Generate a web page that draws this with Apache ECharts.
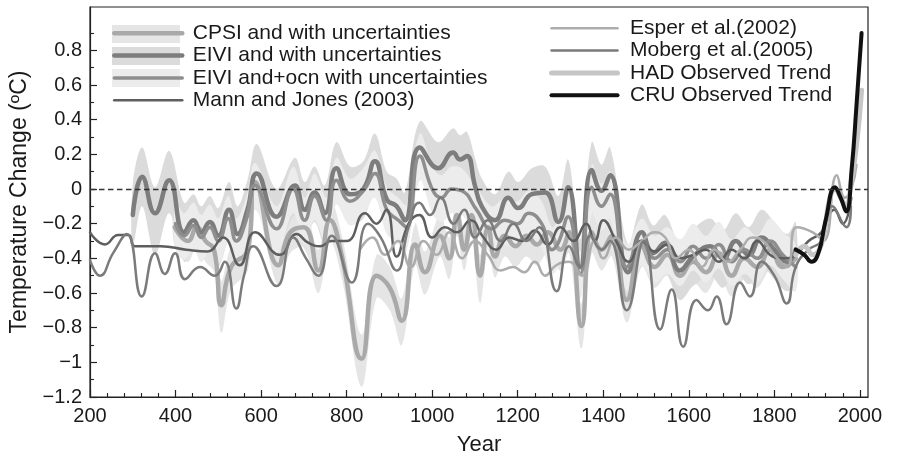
<!DOCTYPE html>
<html><head><meta charset="utf-8">
<script src="https://cdn.jsdelivr.net/npm/echarts@6/dist/echarts.min.js"></script>
<style>html,body{margin:0;padding:0;background:#fff}#c{width:897px;height:460px}</style>
</head><body><div id="c"></div><script>
// ---- axis ticks / labels ----
const xMajorTicks = [200,400,600,800,1000,1200,1400,1600,1800,2000];
const xMinorTicks = [240,280,320,360,440,480,520,560,640,680,720,760,840,880,920,960,1040,1080,1120,1160,1240,1280,1320,1360,1440,1480,1520,1560,1640,1680,1720,1760,1840,1880,1920,1960];
const yMajorTicks = [-1.2,-1,-0.8,-0.6,-0.4,-0.2,0,0.2,0.4,0.6,0.8];
const yTickLabels = ['\u22121.2','\u22121','\u22120.8','\u22120.6','\u22120.4','\u22120.2','0','0.2','0.4','0.6','0.8'];
const yMinorTicks = [-1.1,-0.9,-0.7,-0.5,-0.3,-0.1,0.1,0.3,0.5,0.7,0.9];

// ---- series names ----
const legendLeft = ['CPSI and with uncertainties','EIVI and with uncertainties','EIVI and+ocn with uncertainties','Mann and Jones (2003)'];
const legendRight = ['Esper et al.(2002)','Moberg et al.(2005)','HAD Observed Trend','CRU Observed Trend'];

// ---- series values [year, temperature change] ----
const cpsi = [[398,-0.22],[429,-0.3],[450,-0.22],[470,-0.3],[490,-0.35],[507,-0.67],[530,-0.45],[569,-0.35],[586,0.04],[640,-0.44],[668,-0.25],[700,-0.22],[734,-0.47],[761,-0.18],[790,-0.4],[835,-0.98],[870,-0.5],[901,-0.57],[929,-0.76],[960,-0.32],[983,-0.48],[1018,-0.27],[1040,-0.4],[1058,-0.15],[1075,-0.35],[1092,-0.15],[1112,-0.5],[1131,-0.22],[1147,-0.39],[1170,-0.27],[1195,-0.33],[1220,-0.27],[1245,-0.32],[1270,-0.25],[1300,-0.35],[1320,-0.25],[1349,-0.79],[1373,-0.25],[1396,-0.35],[1420,-0.27],[1455,-0.64],[1490,-0.33],[1520,-0.45],[1550,-0.38],[1580,-0.5],[1610,-0.42],[1640,-0.48],[1670,-0.37],[1700,-0.5],[1730,-0.4],[1760,-0.45],[1790,-0.35],[1820,-0.45],[1850,-0.4]];
const eivi = [[300,-0.15],[322,0.07],[352,-0.14],[385,0.05],[420,-0.25],[442,-0.18],[460,-0.25],[480,-0.19],[500,-0.27],[525,-0.12],[545,-0.26],[568,-0.12],[590,0.09],[636,-0.16],[679,0.02],[702,-0.12],[725,-0.02],[749,-0.14],[776,0.12],[808,-0.03],[839,0.0],[866,0.16],[894,-0.06],[917,-0.1],[936,-0.18],[971,0.24],[1014,0.12],[1049,0.21],[1065,0.17],[1081,0.19],[1100,0.02],[1116,-0.1],[1147,-0.18],[1178,-0.05],[1201,-0.11],[1233,-0.03],[1264,-0.02],[1295,-0.19],[1318,0.01],[1346,-0.45],[1373,0.11],[1396,-0.01],[1416,0.08],[1458,-0.48],[1490,-0.25],[1517,-0.37],[1544,-0.31],[1579,-0.47],[1610,-0.39],[1650,-0.33],[1680,-0.4],[1710,-0.3],[1740,-0.38],[1770,-0.28],[1800,-0.35],[1830,-0.42],[1850,-0.35]];
const eiviOcn = [[400,-0.2],[420,-0.27],[442,-0.21],[460,-0.28],[480,-0.22],[500,-0.3],[523,-0.17],[542,-0.3],[565,-0.18],[586,0.02],[636,-0.23],[675,0.0],[702,-0.18],[725,-0.04],[753,-0.18],[776,0.05],[808,-0.07],[839,-0.01],[866,0.09],[894,-0.12],[921,-0.18],[940,-0.22],[971,0.19],[1002,-0.01],[1022,-0.05],[1045,0.0],[1069,-0.01],[1104,-0.12],[1139,-0.23],[1170,-0.18],[1200,-0.2],[1225,-0.14],[1256,-0.2],[1280,-0.35],[1295,-0.31],[1318,-0.16],[1346,-0.49],[1373,0.01],[1396,-0.1],[1416,-0.03],[1455,-0.45],[1490,-0.3],[1520,-0.4],[1550,-0.35],[1580,-0.42],[1610,-0.33],[1640,-0.4],[1670,-0.32],[1700,-0.42],[1730,-0.35],[1760,-0.4],[1790,-0.3],[1820,-0.38],[1850,-0.45]];
const mannJones = [[200,-0.25],[235,-0.32],[266,-0.265],[290,-0.265],[305,-0.33],[365,-0.33],[425,-0.35],[475,-0.36],[511,-0.28],[550,-0.44],[586,-0.25],[644,-0.38],[683,-0.26],[710,-0.31],[738,-0.33],[765,-0.3],[800,-0.3],[843,-0.14],[870,-0.2],[893,-0.12],[917,-0.39],[945,-0.2],[970,-0.15],[1000,-0.28],[1030,-0.22],[1057,-0.25],[1090,-0.18],[1120,-0.28],[1150,-0.35],[1180,-0.28],[1210,-0.3],[1240,-0.24],[1270,-0.32],[1300,-0.22],[1330,-0.3],[1360,-0.2],[1380,-0.3],[1400,-0.18],[1430,-0.3],[1460,-0.42],[1490,-0.3],[1520,-0.36],[1550,-0.32],[1580,-0.4],[1610,-0.38],[1640,-0.35],[1670,-0.42],[1700,-0.35],[1730,-0.4],[1760,-0.3],[1790,-0.38],[1820,-0.4],[1850,-0.38],[1880,-0.3],[1910,-0.25],[1940,-0.12],[1960,-0.2],[1980,-0.05]];
const esper = [[831,-0.35],[860,-0.28],[890,-0.38],[920,-0.3],[950,-0.45],[980,-0.3],[1010,-0.38],[1040,-0.25],[1070,-0.4],[1100,-0.3],[1130,-0.38],[1160,-0.47],[1189,-0.45],[1215,-0.48],[1240,-0.42],[1264,-0.5],[1290,-0.44],[1320,-0.42],[1350,-0.5],[1380,-0.3],[1400,-0.4],[1430,-0.28],[1460,-0.35],[1490,-0.3],[1520,-0.25],[1545,-0.28],[1570,-0.4],[1600,-0.35],[1630,-0.45],[1660,-0.35],[1690,-0.42],[1720,-0.35],[1750,-0.28],[1774,-0.3],[1800,-0.38],[1830,-0.45],[1852,-0.22],[1890,-0.25],[1915,-0.3],[1946,0.08],[1965,-0.05],[1980,0.0],[1992,0.14]];
const moberg = [[200,-0.41],[223,-0.5],[254,-0.37],[286,-0.26],[321,-0.62],[352,-0.37],[375,-0.49],[399,-0.37],[422,-0.52],[457,-0.45],[492,-0.5],[515,-0.42],[542,-0.69],[560,-0.5],[582,-0.33],[636,-0.56],[675,-0.28],[705,-0.4],[734,-0.5],[765,-0.27],[812,-0.54],[850,-0.2],[880,-0.28],[917,-0.47],[945,-0.22],[970,-0.08],[995,-0.15],[1020,-0.05],[1050,-0.2],[1075,-0.12],[1100,-0.28],[1130,-0.18],[1160,-0.3],[1190,-0.2],[1220,-0.3],[1250,-0.22],[1291,-0.59],[1320,-0.33],[1346,-0.45],[1370,-0.27],[1396,-0.35],[1416,-0.3],[1455,-0.7],[1495,-0.3],[1533,-0.81],[1560,-0.58],[1587,-0.91],[1618,-0.64],[1645,-0.7],[1665,-0.62],[1688,-0.78],[1720,-0.54],[1743,-0.62],[1770,-0.42],[1800,-0.5],[1829,-0.66],[1850,-0.45],[1880,-0.35],[1910,-0.3],[1935,-0.1],[1969,-0.22],[1979,-0.1]];
const had = [[1850,-0.38],[1870,-0.33],[1890,-0.38],[1910,-0.32],[1930,-0.05],[1942,0.0],[1955,-0.05],[1968,-0.1],[1980,0.05],[1992,0.25],[2004,0.57]];
const cru = [[1850,-0.35],[1870,-0.38],[1887,-0.42],[1903,-0.37],[1920,-0.18],[1942,0.01],[1955,-0.05],[1968,-0.13],[1981,0.12],[1992,0.48],[2004,0.9]];

// ---- uncertainty bands [year, lower, upper] ----
const cpsiBand = [[398,-0.33,-0.11],[429,-0.42,-0.19],[450,-0.33,-0.11],[470,-0.42,-0.19],[490,-0.48,-0.23],[507,-0.83,-0.53],[530,-0.58,-0.33],[569,-0.47,-0.22],[586,-0.08,0.16],[640,-0.56,-0.32],[668,-0.37,-0.13],[700,-0.34,-0.1],[734,-0.6,-0.35],[761,-0.3,-0.06],[790,-0.53,-0.28],[835,-1.14,-0.84],[870,-0.63,-0.38],[901,-0.7,-0.45],[929,-0.9,-0.63],[960,-0.44,-0.2],[983,-0.61,-0.36],[1018,-0.39,-0.15],[1040,-0.52,-0.28],[1058,-0.27,-0.03],[1075,-0.47,-0.23],[1092,-0.27,-0.03],[1112,-0.66,-0.38],[1131,-0.34,-0.1],[1147,-0.51,-0.27],[1170,-0.39,-0.15],[1195,-0.45,-0.21],[1220,-0.39,-0.15],[1245,-0.44,-0.2],[1270,-0.37,-0.13],[1300,-0.47,-0.23],[1320,-0.37,-0.13],[1349,-0.92,-0.66],[1373,-0.37,-0.13],[1396,-0.47,-0.23],[1420,-0.39,-0.15],[1455,-0.77,-0.51],[1490,-0.45,-0.21],[1520,-0.57,-0.33],[1550,-0.5,-0.26],[1580,-0.62,-0.38],[1610,-0.54,-0.3],[1640,-0.6,-0.36],[1670,-0.49,-0.25],[1700,-0.62,-0.38],[1730,-0.52,-0.28],[1760,-0.57,-0.33],[1790,-0.47,-0.23],[1820,-0.57,-0.33],[1850,-0.52,-0.28]];
const eiviBand = [[300,-0.33,0.03],[322,-0.1,0.24],[352,-0.38,0.01],[385,-0.14,0.22],[420,-0.42,-0.08],[442,-0.34,-0.03],[460,-0.42,-0.1],[480,-0.36,-0.04],[500,-0.45,-0.11],[525,-0.3,0.04],[545,-0.45,-0.1],[568,-0.3,0.05],[590,-0.08,0.26],[636,-0.35,0.0],[679,-0.15,0.18],[702,-0.3,0.04],[725,-0.19,0.13],[749,-0.32,0.02],[776,-0.05,0.27],[808,-0.2,0.13],[839,-0.17,0.16],[866,-0.02,0.32],[894,-0.24,0.1],[917,-0.28,0.06],[936,-0.36,-0.02],[971,0.05,0.39],[1014,-0.06,0.27],[1049,0.03,0.35],[1065,-0.01,0.31],[1081,0.01,0.33],[1100,-0.16,0.18],[1116,-0.27,0.06],[1147,-0.35,-0.03],[1178,-0.22,0.1],[1201,-0.28,0.04],[1233,-0.2,0.12],[1264,-0.19,0.13],[1295,-0.36,-0.04],[1318,-0.16,0.17],[1346,-0.63,-0.29],[1373,-0.07,0.27],[1396,-0.18,0.14],[1416,-0.1,0.24],[1458,-0.65,-0.32],[1490,-0.42,-0.09],[1517,-0.54,-0.21],[1544,-0.48,-0.15],[1579,-0.64,-0.31],[1610,-0.56,-0.23],[1650,-0.5,-0.17],[1680,-0.57,-0.24],[1710,-0.47,-0.14],[1740,-0.55,-0.22],[1770,-0.45,-0.12],[1800,-0.52,-0.19],[1830,-0.59,-0.26],[1850,-0.52,-0.19]];
const eiviOcnBand = [[400,-0.34,-0.07],[420,-0.41,-0.14],[442,-0.35,-0.08],[460,-0.42,-0.15],[480,-0.36,-0.09],[500,-0.44,-0.17],[523,-0.31,-0.04],[542,-0.44,-0.17],[565,-0.32,-0.05],[586,-0.12,0.15],[636,-0.37,-0.1],[675,-0.14,0.13],[702,-0.32,-0.05],[725,-0.18,0.09],[753,-0.32,-0.05],[776,-0.09,0.18],[808,-0.21,0.06],[839,-0.15,0.12],[866,-0.05,0.22],[894,-0.26,0.01],[921,-0.32,-0.05],[940,-0.36,-0.09],[971,0.05,0.32],[1002,-0.15,0.12],[1022,-0.19,0.08],[1045,-0.14,0.13],[1069,-0.15,0.12],[1104,-0.26,0.01],[1139,-0.37,-0.1],[1170,-0.32,-0.05],[1200,-0.34,-0.07],[1225,-0.28,-0.01],[1256,-0.34,-0.07],[1280,-0.49,-0.22],[1295,-0.45,-0.18],[1318,-0.3,-0.03],[1346,-0.63,-0.36],[1373,-0.13,0.14],[1396,-0.24,0.03],[1416,-0.17,0.1],[1455,-0.59,-0.32],[1490,-0.44,-0.17],[1520,-0.54,-0.27],[1550,-0.49,-0.22],[1580,-0.56,-0.29],[1610,-0.47,-0.2],[1640,-0.54,-0.27],[1670,-0.46,-0.19],[1700,-0.56,-0.29],[1730,-0.49,-0.22],[1760,-0.54,-0.27],[1790,-0.44,-0.17],[1820,-0.52,-0.25],[1850,-0.59,-0.32]];

const FONT = 'Liberation Sans, Arial, Helvetica, sans-serif';

function bandSeries(band, name, color) {
  return {
    name, type:'custom', data: band, silent:true, z:1,
    encode:{x:0, y:[1,2]},
    renderItem: function (params, api) {
      if (params.dataIndex !== 0) return null;
      const upper = band.map(d => api.coord([d[0], d[2]]));
      const lower = band.map(d => api.coord([d[0], d[1]])).reverse();
      return {type:'polygon', silent:true,
        shape:{points: upper.concat(lower), smooth:0.35},
        style:{fill: color, stroke:null}};
    }
  };
}
function lineSeries(name, data, color, width, z) {
  return {name, type:'line', data, smooth:0.5, symbol:'none', showSymbol:false,
    lineStyle:{color, width, cap:'round', join:'round'}, itemStyle:{color}, z: z || 3, silent:true, emphasis:{disabled:true}};
}

const mannSeries = lineSeries(legendLeft[3], mannJones, '#5e5e5e', 2.5);
mannSeries.markLine = {symbol:'none', silent:true, label:{show:false}, animation:false,
  lineStyle:{type:[5.5,3.5], color:'#333', width:1.4}, data:[{yAxis:0}]};

const series = [
  bandSeries(cpsiBand, 'cpsiBand', '#e5e5e5'),
  bandSeries(eiviBand, 'eiviBand', '#dbdbdb'),
  bandSeries(eiviOcnBand, 'eiviOcnBand', '#ececec'),
  lineSeries(legendLeft[0], cpsi, '#a9a9a9', 4.5),
  lineSeries(legendLeft[1], eivi, '#7d7d7d', 4.5),
  lineSeries(legendLeft[2], eiviOcn, '#8e8e8e', 3.5),
  mannSeries,
  lineSeries(legendRight[0], esper, '#adadad', 2.5),
  lineSeries(legendRight[1], moberg, '#7b7b7b', 2.5),
  lineSeries(legendRight[2], had, '#c6c6c6', 5),
  lineSeries(legendRight[3], cru, '#111111', 4, 4)
];

const legendCommon = {orient:'vertical', padding:0, itemHeight:14, itemGap:1.3, selectedMode:false,
  itemStyle:{opacity:0}, lineStyle:{width:'inherit'}};

const chart = echarts.init(document.getElementById('c'), null, {renderer:'canvas'});
chart.setOption({
  animation:false,
  backgroundColor:'#fff',
  textStyle:{fontFamily:FONT},
  grid:{left:90, right:29, top:7, bottom:63, containLabel:false, outerBoundsMode:'none',
        show:true, borderColor:'#222', borderWidth:1.2, backgroundColor:'transparent'},
  legend:[
    Object.assign({}, legendCommon, {data:legendLeft, left:112, top:22.8, itemWidth:68,
     textStyle:{fontSize:21, color:'#1a1a1a', fontFamily:FONT, padding:[0,0,0,5.5]}}),
    Object.assign({}, legendCommon, {data:legendRight, left:549, top:17.8, itemWidth:66,
     textStyle:{fontSize:21, color:'#1a1a1a', fontFamily:FONT, padding:[0,0,0,7.5]}})
  ],
  graphic:[
    {type:'rect', left:112, top:25, shape:{width:68, height:18}, style:{fill:'#e5e5e5'}, z:-1, silent:true},
    {type:'rect', left:112, top:47, shape:{width:68, height:18}, style:{fill:'#dbdbdb'}, z:-1, silent:true},
    {type:'rect', left:112, top:69, shape:{width:68, height:18}, style:{fill:'#ececec'}, z:-1, silent:true}
  ],
  xAxis:[
    {type:'value', min:200, max:2019, position:'bottom',
     name:'Year', nameLocation:'middle', nameGap:37, nameTextStyle:{fontSize:22, color:'#1a1a1a', fontFamily:FONT},
     axisLine:{show:true, onZero:false, lineStyle:{color:'#222', width:1.2}},
     axisTick:{show:true, inside:true, length:7, customValues:xMajorTicks, lineStyle:{color:'#222', width:1.2}},
     axisLabel:{show:true, customValues:xMajorTicks, margin:9, fontSize:20, color:'#1a1a1a', fontFamily:FONT,
       formatter:v => String(Math.round(v))},
     splitLine:{show:false}},
    {type:'value', min:200, max:2019, position:'bottom',
     axisLine:{show:false, onZero:false},
     axisTick:{show:true, inside:true, length:4, customValues:xMinorTicks, lineStyle:{color:'#222', width:1.1}},
     axisLabel:{show:false}, splitLine:{show:false}}
  ],
  yAxis:[
    {type:'value', min:-1.2, max:1.05, position:'left',
     name:'Temperature Change (\u00baC)', nameLocation:'middle', nameGap:58, nameRotate:90,
     nameTextStyle:{fontSize:23, color:'#1a1a1a', fontFamily:FONT},
     axisLine:{show:true, onZero:false, lineStyle:{color:'#222', width:1.2}},
     axisTick:{show:true, inside:true, length:7, customValues:yMajorTicks, lineStyle:{color:'#222', width:1.2}},
     axisLabel:{show:true, customValues:yMajorTicks, margin:8, fontSize:20, color:'#1a1a1a', fontFamily:FONT,
       formatter:v => { const i = yMajorTicks.findIndex(t => Math.abs(t - v) < 1e-6); return i >= 0 ? yTickLabels[i] : ''; }},
     splitLine:{show:false}},
    {type:'value', min:-1.2, max:1.05, position:'left',
     axisLine:{show:false, onZero:false},
     axisTick:{show:true, inside:true, length:4, customValues:yMinorTicks, lineStyle:{color:'#222', width:1.1}},
     axisLabel:{show:false}, splitLine:{show:false}}
  ],
  series
});
</script></body></html>
